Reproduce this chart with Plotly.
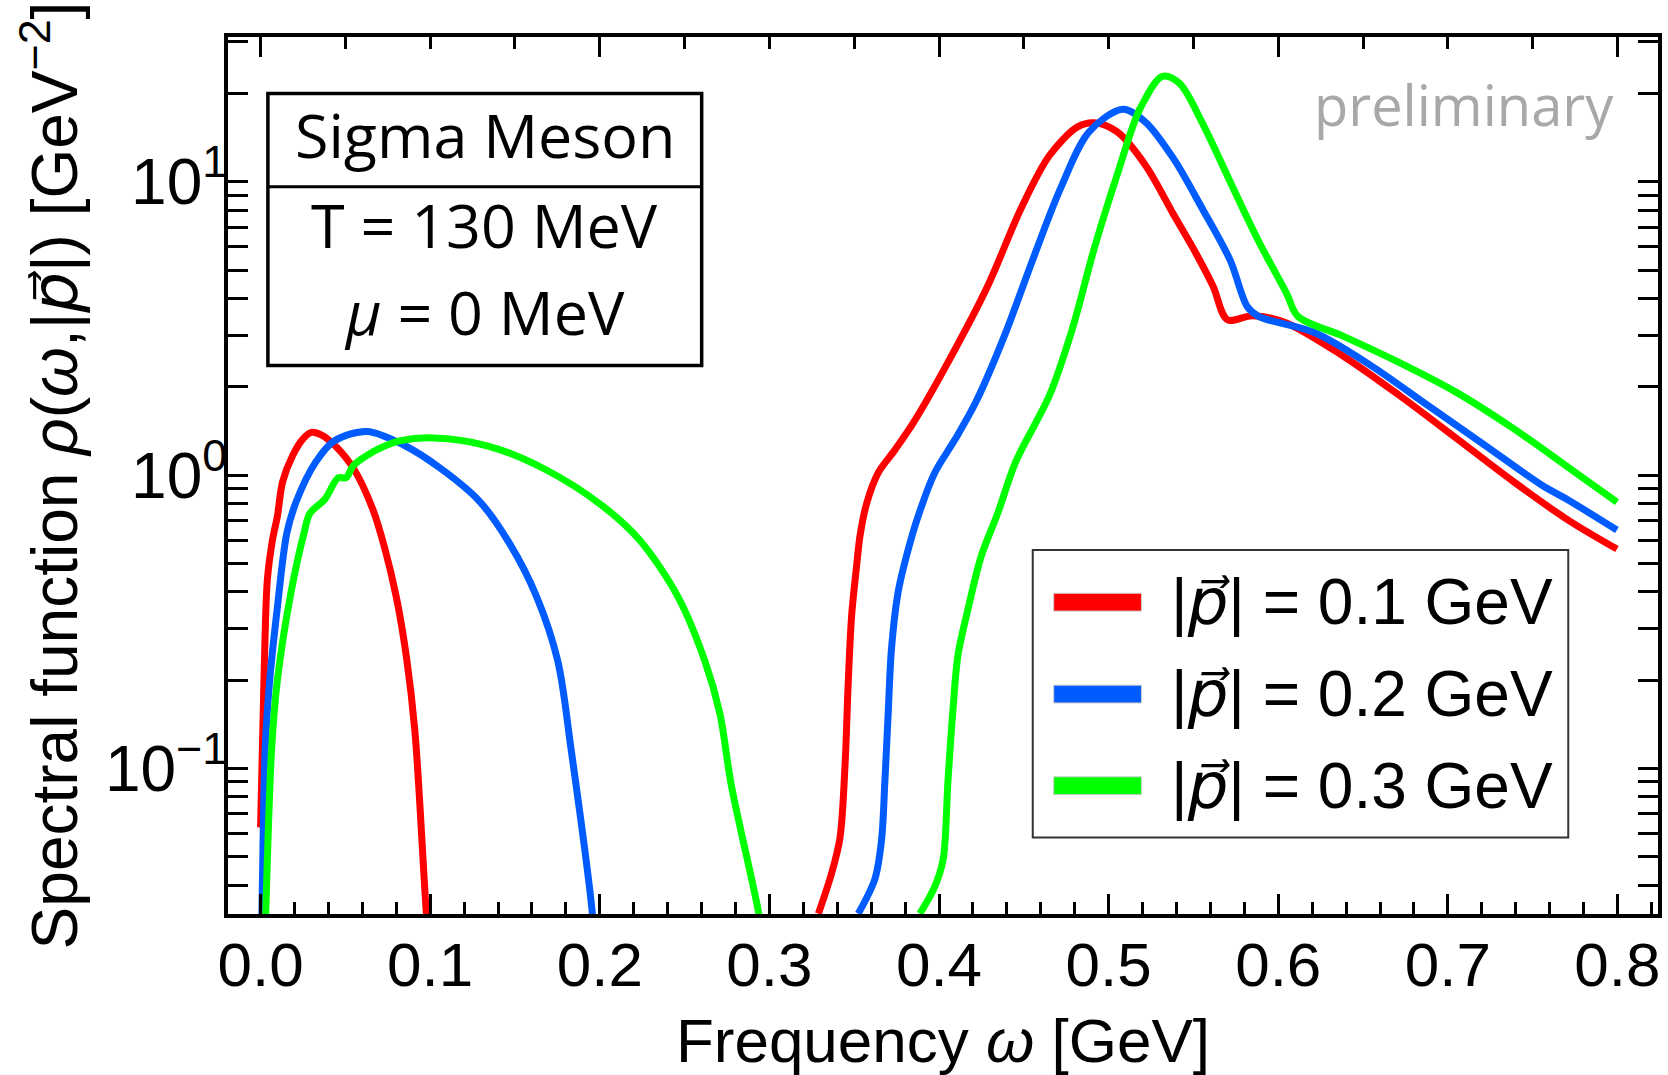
import plotly.graph_objects as go

# ---------------- data ----------------
w_red = [0.000, 0.002, 0.004, 0.007, 0.010, 0.013, 0.019, 0.025, 0.030, 0.036, 0.044,
         0.055, 0.066, 0.073, 0.080, 0.086, 0.091, 0.0976, 0.100, None,
         0.3289, 0.3367, 0.3416, 0.3446, 0.3465, 0.3485, 0.3514, 0.3534, 0.3573, 0.3642,
         0.3740, 0.3852, 0.4052, 0.4285, 0.4485, 0.4651, 0.4817, 0.4917, 0.5051, 0.5217,
         0.5383, 0.5517, 0.5617, 0.5700, 0.5850, 0.6049, 0.6382, 0.6715, 0.7048, 0.7381,
         0.7714, 0.7997]
s_red = [0.063, 0.20, 0.44, 0.60, 0.73, 0.95, 1.17, 1.33, 1.40, 1.37, 1.26,
         1.05, 0.77, 0.57, 0.385, 0.24, 0.134, 0.033, 0.022, None,
         0.032, 0.044, 0.058, 0.103, 0.198, 0.333, 0.49, 0.62, 0.80, 1.02,
         1.22, 1.52, 2.42, 4.39, 8.15, 12.3, 15.4, 15.9, 14.8, 11.4,
         7.74, 5.68, 4.39, 3.39, 3.50, 3.30, 2.55, 1.87, 1.34, 0.957,
         0.70, 0.56]

w_blue = [0.0005, 0.001, 0.0027, 0.0054, 0.0099, 0.0155, 0.0211, 0.0324, 0.0436, 0.0627,
          0.0841, 0.1066, 0.1291, 0.1472, 0.1628, 0.1752, 0.1831, 0.1954, 0.197, None,
          0.3524, 0.3622, 0.3661, 0.3681, 0.3700, 0.3720, 0.3759, 0.3808, 0.3877, 0.3975,
          0.4093, 0.4218, 0.4385, 0.4551, 0.4717, 0.4884, 0.5084, 0.5217, 0.5383, 0.5550,
          0.5717, 0.5817, 0.5883, 0.6216, 0.6549, 0.6882, 0.7215, 0.7548, 0.7714, 0.7997]
s_blue = [0.025, 0.038, 0.116, 0.20, 0.354, 0.635, 0.815, 1.106, 1.31, 1.41,
          1.27, 1.05, 0.815, 0.58, 0.385, 0.233, 0.116, 0.033, 0.025, None,
          0.032, 0.042, 0.057, 0.091, 0.153, 0.257, 0.40, 0.53, 0.725, 1.02,
          1.32, 1.78, 2.98, 5.40, 9.52, 14.8, 17.7, 16.0, 12.0, 8.15,
          5.40, 3.76, 3.48, 3.06, 2.36, 1.73, 1.27, 0.93, 0.82, 0.65]

w_green = [0.0025, 0.0031, 0.0065, 0.0099, 0.0178, 0.0256, 0.029, 0.038, 0.0458, 0.0503,
           0.0548, 0.0661, 0.0751, 0.0819, 0.1021, 0.1336, 0.1674, 0.2011, 0.2236, 0.2461,
           0.2619, 0.2708, 0.2775, 0.2933, 0.295, None,
           0.3887, 0.3975, 0.4024, 0.4053, 0.4083, 0.4112, 0.4171, 0.4249, 0.4347, 0.4452,
           0.4651, 0.4785, 0.4917, 0.5051, 0.5184, 0.5317, 0.5417, 0.5550, 0.5717, 0.5883,
           0.6049, 0.6116, 0.6382, 0.6715, 0.7048, 0.7381, 0.7714, 0.7997]
s_green = [0.025, 0.033, 0.116, 0.20, 0.395, 0.635, 0.74, 0.83, 0.98, 0.98,
           1.08, 1.20, 1.27, 1.31, 1.34, 1.26, 1.05, 0.79, 0.60, 0.385,
           0.233, 0.154, 0.088, 0.033, 0.028, None,
           0.032, 0.0396, 0.0488, 0.091, 0.161, 0.244, 0.35, 0.53, 0.744, 1.11,
           1.87, 3.14, 5.98, 10.6, 17.7, 22.9, 21.7, 16.0, 10.0, 6.30,
           4.17, 3.48, 2.98, 2.42, 1.92, 1.45, 1.06, 0.81]

PVEC = '<span style="font-family:DejaVu Sans"><i>p⃗</i></span>'
series_names = ["|" + PVEC + "| = 0.1 GeV", "|" + PVEC + "| = 0.2 GeV", "|" + PVEC + "| = 0.3 GeV"]
series_colors = ["#ff0000", "#005cff", "#00ff00"]

x_ticks = [0.0, 0.1, 0.2, 0.3, 0.4, 0.5, 0.6, 0.7, 0.8]
x_ticktext = ["0.0", "0.1", "0.2", "0.3", "0.4", "0.5", "0.6", "0.7", "0.8"]
y_ticks = [0.1, 1, 10]
y_ticktext = ["10<sup>−1</sup>", "10<sup>0</sup>", "10<sup>1</sup>"]
y_minor = [0.04, 0.05, 0.06, 0.07, 0.08, 0.09,
           0.2, 0.3, 0.4, 0.5, 0.6, 0.7, 0.8, 0.9,
           2, 3, 4, 5, 6, 7, 8, 9, 20, 30]

x_range = [-0.0192, 0.8239]
y_range = [-1.496, 1.494]

FONT = "Liberation Sans, Arial, sans-serif"
FONT_TICK = "Liberation Sans Narrow, Arial Narrow, Liberation Sans, sans-serif"
FONT2 = "Open Sans, Noto Sans, sans-serif"

fig = go.Figure()
for w, s, name, col in zip([w_red, w_blue, w_green], [s_red, s_blue, s_green],
                           series_names, series_colors):
    fig.add_trace(go.Scatter(x=w, y=s, mode="lines", name=name,
                             line=dict(color=col, width=7, shape="spline", smoothing=0.9),
                             connectgaps=False, showlegend=False))

# invisible trace so the top axis is drawn
fig.add_trace(go.Scatter(x=[None], y=[None], xaxis="x2", showlegend=False, hoverinfo="skip"))

W, H = 1668, 1075
L, R, T, B = 228, 6, 37, 154
pw, ph = W - L - R, H - T - B


def px(x):
    return (x - L) / pw


def py(y):
    return (H - B - y) / ph


fig.update_layout(
    width=W, height=H,
    margin=dict(l=L, r=R, t=T, b=B),
    paper_bgcolor="white", plot_bgcolor="white",
    font=dict(family=FONT, color="black", size=56),
    xaxis=dict(range=x_range, tickvals=x_ticks, ticktext=x_ticktext,
               ticks="inside", ticklen=20, tickwidth=3, tickcolor="black",
               minor=dict(ticks="inside", ticklen=12, tickwidth=3, tickcolor="black",
                          tick0=0, dtick=0.02),
               showline=True, linewidth=4, linecolor="black", mirror=False,
               showgrid=False, zeroline=False, ticklabelstandoff=-6,
               tickfont=dict(family=FONT_TICK, size=62),
               title=dict(text="Frequency <i>ω</i> [GeV]", font=dict(size=62), standoff=26)),
    xaxis2=dict(range=x_range, overlaying="x", side="top", anchor="y",
                tick0=0, dtick=0.2, ticks="inside", ticklen=20, tickwidth=3, tickcolor="black",
                minor=dict(ticks="inside", ticklen=12, tickwidth=3, tickcolor="black",
                           tick0=0, dtick=0.05),
                showticklabels=False, showline=True, linewidth=4, linecolor="black",
                showgrid=False, zeroline=False),
    yaxis=dict(type="log", range=y_range, tickvals=y_ticks, ticktext=y_ticktext,
               ticks="inside", ticklen=20, tickwidth=3, tickcolor="black",
               minor=dict(ticks="inside", ticklen=12, tickwidth=3, tickcolor="black",
                          tickvals=y_minor),
               showline=True, linewidth=4, linecolor="black", mirror="allticks",
               showgrid=False, zeroline=False, ticklabelstandoff=-16,
               tickfont=dict(family=FONT_TICK, size=64),
               title=dict(text="Spectral function <i>ρ</i>(<i>ω</i>,|" + PVEC + "|) [GeV<sup>−2</sup>]",
                          font=dict(size=64), standoff=8)),
)

shapes = []
annotations = []

# info box
bx0, bx1, by0, by1, bdiv = 268, 703, 94, 368, 188
shapes.append(dict(type="rect", xref="paper", yref="paper",
                   x0=px(bx0), x1=px(bx1), y0=py(by1), y1=py(by0),
                   line=dict(color="black", width=3.5), fillcolor="white", layer="above"))
shapes.append(dict(type="line", xref="paper", yref="paper",
                   x0=px(bx0), x1=px(bx1), y0=py(bdiv), y1=py(bdiv),
                   line=dict(color="black", width=3), layer="above"))
box_texts = ["Sigma Meson", "T = 130 MeV", "<i>μ</i> = 0 MeV"]
box_ys = [135, 226, 314]
for t, yy in zip(box_texts, box_ys):
    annotations.append(dict(text=t, xref="paper", yref="paper", x=px((bx0 + bx1) / 2), y=py(yy),
                            xanchor="center", yanchor="middle", showarrow=False,
                            font=dict(family=FONT2, size=61, color="black")))

# preliminary
annotations.append(dict(text="preliminary", xref="paper", yref="paper", x=px(1620), y=py(105),
                        xanchor="right", yanchor="middle", showarrow=False,
                        font=dict(family=FONT2, size=56, color="#a8a8a8")))

# legend (drawn manually to match swatch shape)
lx0, lx1, ly0, ly1 = 1035, 1572, 554, 844
shapes.append(dict(type="rect", xref="paper", yref="paper",
                   x0=px(lx0), x1=px(lx1), y0=py(ly1), y1=py(ly0),
                   line=dict(color="#333333", width=2), fillcolor="white", layer="above"))
leg_ys = [606.7, 699.3, 791.7]
for name, col, yy in zip(series_names, series_colors, leg_ys):
    shapes.append(dict(type="rect", xref="paper", yref="paper",
                       x0=px(1056), x1=px(1144), y0=py(yy + 9), y1=py(yy - 9),
                       line=dict(color="#cccccc", width=1), fillcolor=col, layer="above"))
    annotations.append(dict(text=name, xref="paper", yref="paper", x=px(1172), y=py(yy),
                            xanchor="left", yanchor="middle", showarrow=False,
                            font=dict(family=FONT, size=64, color="black")))

fig.update_layout(shapes=shapes, annotations=annotations)

fig.write_html("out.html")
